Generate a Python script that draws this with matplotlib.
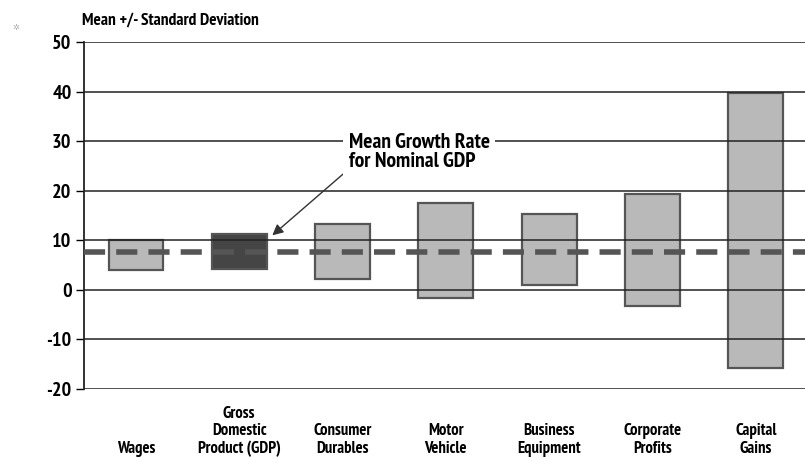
import matplotlib
matplotlib.use("Agg")
import matplotlib.pyplot as plt
from matplotlib import transforms

plt.rcParams['font.family'] = ['PT Sans Narrow', 'DejaVu Sans']
plt.rcParams['font.weight'] = 'bold'

categories = ["Wages", "Gross\nDomestic\nProduct (GDP)", "Consumer\nDurables",
              "Motor\nVehicle", "Business\nEquipment", "Corporate\nProfits",
              "Capital\nGains"]
lows = [4.0, 4.2, 2.2, -1.6, 1.0, -3.2, -15.7]
highs = [10.0, 11.3, 13.3, 17.5, 15.3, 19.4, 39.7]
gdp_mean = 7.6
yticks = [50, 40, 30, 20, 10, 0, -10, -20]

fig = plt.figure(figsize=(8.05, 4.57), dpi=100)
ax = fig.add_axes([0.1043, 0.1488, 0.8957, 0.7593])

x = list(range(len(categories)))
colors = ['#b9b9b9'] * len(categories)
colors[1] = '#454545'
heights = [h - l for h, l in zip(highs, lows)]
ax.bar(x, heights, bottom=lows, width=0.53, color=colors,
       edgecolor='#555555', linewidth=1.6, zorder=1)

# grid drawn over the boxes
for v in yticks:
    ax.axhline(v, color='#222222', lw=1.1, zorder=2)

ax.axhline(gdp_mean, color='#555555', lw=4, dashes=(3.8, 2.0), zorder=3)

ax.set_xlim(-0.503, 6.476)
ax.set_ylim(-20, 50)
ax.set_yticks(yticks)
ax.set_yticklabels([str(v) for v in yticks], fontsize=14.5, fontweight='bold')
ax.tick_params(axis='y', length=6, width=1, direction='out', pad=3)
ax.set_xticks([])
for s in ['top', 'right', 'bottom']:
    ax.spines[s].set_visible(False)
ax.spines['left'].set_linewidth(1.3)
ax.spines['left'].set_color('#222222')

trans = transforms.blended_transform_factory(ax.transData, ax.transAxes)
for xi, lab in zip(x, categories):
    ax.text(xi, -0.195, lab, transform=trans, ha='center', va='bottom',
            multialignment='center', fontsize=12, fontweight='bold',
            linespacing=1.1)

ax.annotate("Mean Growth Rate\nfor Nominal GDP", xy=(1.32, 11.0), xytext=(2.06, 27.8),
            fontsize=15.5, fontweight='bold', ha='left', va='center',
            linespacing=1.0,
            bbox=dict(boxstyle='square,pad=0.25', fc='white', ec='none'),
            arrowprops=dict(arrowstyle='-|>', color='#333333', lw=1,
                            mutation_scale=16, shrinkA=0, shrinkB=0,
                            relpos=(0.0, 0.05)),
            zorder=5)

fig.text(0.102, 0.955, "Mean +/- Standard Deviation", fontsize=12.5,
         fontweight='bold', ha='left', va='center')
fig.text(0.02, 0.94, "\u2732", fontsize=6, color='#b0b0b0', ha='center', va='center',
         family='DejaVu Sans')

fig.savefig("out.png", dpi=100)
